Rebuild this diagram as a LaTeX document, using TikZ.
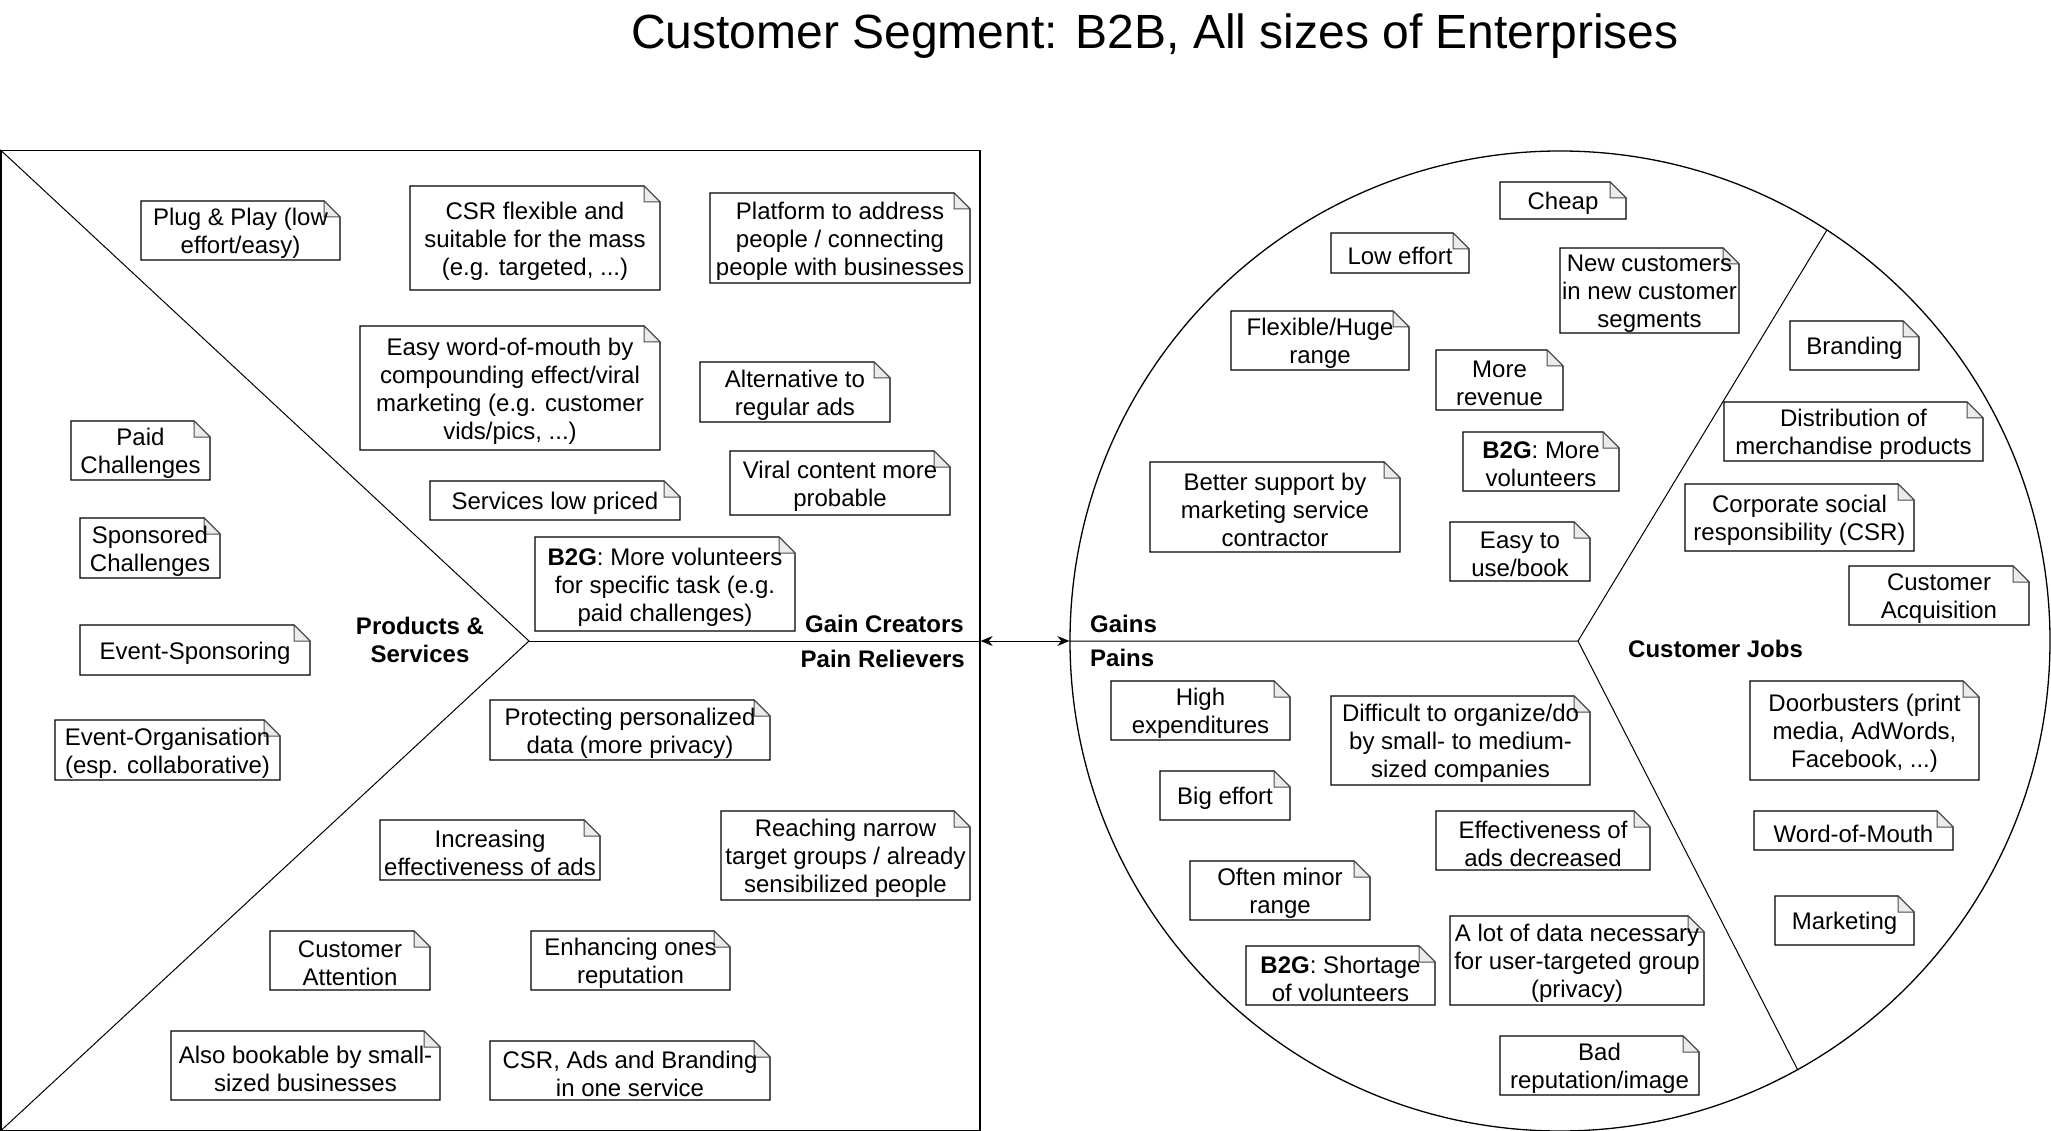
\documentclass[tikz,border=0pt]{standalone}
\usepackage{fontspec}
\setmainfont{Liberation Sans}
\usetikzlibrary{arrows.meta,backgrounds}
\newcommand\notefont{\fontsize{24}{28}\selectfont}
\tikzset{
  notebox/.style={font=\notefont, align=center, inner sep=0pt, text=black},
  noteline/.style={draw=black, line width=1.2pt, fill=white},
  foldline/.style={draw=black!70, line width=1pt, fill=black!8},
  frame/.style={draw=black, line width=1.3pt},
  divider/.style={draw=black, line width=1pt},
  lbl/.style={font=\fontsize{24}{28}\selectfont\bfseries, inner sep=0pt},
}
\newcommand\nt[6]{%
  \node[notebox] (#1) at ({(#2+#4)/2},{(#3+#5)/2+3}) {#6};
  \begin{pgfonlayer}{background}
    \path[noteline] (#2,#3) -- ({#4-16},#3) -- (#4,{#3+16}) -- (#4,#5) -- (#2,#5) -- cycle;
    \path[foldline] ({#4-16},#3) -- ({#4-16},{#3+16}) -- (#4,{#3+16}) -- cycle;
  \end{pgfonlayer}}
\begin{document}
\begin{tikzpicture}[x=1pt,y=-1pt]
\useasboundingbox (0,0) rectangle (2051,1131);
% title
\node[font=\fontsize{48}{56}\selectfont, anchor=base, inner sep=0pt] (title) at (1155,49) {Customer Segment: B2B, All sizes of Enterprises};
% value map square
\node[frame, minimum width=979pt, minimum height=980pt, inner sep=0pt] (vp) at (490.5,640.5) {};
\coordinate (apex) at (529,641);
\draw[divider] (vp.north west) -- (apex) -- (vp.south west);
\draw[divider] (apex) -- (apex -| vp.east);
% customer profile circle
\node[frame, circle, minimum size=980pt, inner sep=0pt] (cp) at (1560,641) {};
\coordinate (jc) at (1578,641);
\draw[divider] (cp.west) -- (jc) -- (cp.57.6);
\draw[divider] (jc) -- (cp.-61);
% fit arrow
\draw[line width=1pt, {Stealth[length=12pt,width=10pt]}-{Stealth[length=12pt,width=10pt]}] (vp.east |- cp.west) -- (cp.west);
% section labels
\node[lbl, align=center] (ps) at (420,640) {Products \&\\Services};
\node[lbl, anchor=base east] (gc) at (964,632) {Gain Creators};
\node[lbl, anchor=base east] (pr) at (965,667) {Pain Relievers};
\node[lbl, anchor=base west] (gn) at (1090,632) {Gains};
\node[lbl, anchor=base west] (pn) at (1090,666) {Pains};
\node[lbl, anchor=base west] (cjl) at (1628,657) {Customer Jobs};
% notes: value map
\nt{n1}{141}{201}{340}{260}{Plug \& Play (low\\effort/easy)}
\nt{n2}{410}{186}{660}{290}{CSR flexible and\\suitable for the mass\\(e.g. targeted, ...)}
\nt{n3}{710}{193}{970}{283}{Platform to address\\people / connecting\\people with businesses}
\nt{n4}{360}{326}{660}{450}{Easy word-of-mouth by\\compounding effect/viral\\marketing (e.g. customer\\vids/pics, ...)}
\nt{n5}{700}{362}{890}{422}{Alternative to\\regular ads}
\nt{n6}{71}{421}{210}{480}{Paid\\Challenges}
\nt{n7}{730}{451}{950}{515}{Viral content more\\probable}
\nt{n8}{430}{481}{680}{520}{Services low priced}
\nt{n9}{80}{518}{220}{578}{Sponsored\\Challenges}
\nt{n10}{535}{537}{795}{631}{\textbf{B2G}: More volunteers\\for specific task (e.g.\\paid challenges)}
\nt{n11}{80}{625}{310}{675}{Event-Sponsoring}
\nt{n12}{55}{720}{280}{780}{Event-Organisation\\(esp. collaborative)}
\nt{n13}{490}{700}{770}{760}{Protecting personalized\\data (more privacy)}
\nt{n14}{380}{820}{600}{880}{Increasing\\effectiveness of ads}
\nt{n15}{721}{811}{970}{900}{Reaching narrow\\target groups / already\\sensibilized people}
\nt{n16}{270}{931}{430}{990}{Customer\\Attention}
\nt{n17}{531}{931}{730}{990}{Enhancing ones\\reputation}
\nt{n18}{171}{1031}{440}{1100}{Also bookable by small-\\sized businesses}
\nt{n19}{490}{1041}{770}{1100}{CSR, Ads and Branding\\in one service}
% notes: gains
\nt{r1}{1500}{182}{1626}{219}{Cheap}
\nt{r2}{1331}{233}{1469}{273}{Low effort}
\nt{r3}{1560}{248}{1739}{333}{New customers\\in new customer\\segments}
\nt{r4}{1231}{311}{1409}{370}{Flexible/Huge\\range}
\nt{r5}{1436}{350}{1563}{410}{More\\revenue}
\nt{r6}{1463}{432}{1619}{491}{\textbf{B2G}: More\\volunteers}
\nt{r7}{1150}{462}{1400}{552}{Better support by\\marketing service\\contractor}
\nt{r8}{1450}{522}{1590}{581}{Easy to\\use/book}
% notes: customer jobs
\nt{j1}{1790}{321}{1919}{370}{Branding}
\nt{j2}{1724}{402}{1983}{461}{Distribution of\\merchandise products}
\nt{j3}{1685}{484}{1914}{551}{Corporate social\\responsibility (CSR)}
\nt{j4}{1849}{566}{2029}{625}{Customer\\Acquisition}
\nt{j5}{1750}{681}{1979}{780}{Doorbusters (print\\media, AdWords,\\Facebook, ...)}
\nt{j6}{1754}{811}{1953}{850}{Word-of-Mouth}
\nt{j7}{1775}{896}{1914}{945}{Marketing}
% notes: pains
\nt{p1}{1111}{681}{1290}{740}{High\\expenditures}
\nt{p2}{1331}{696}{1590}{785}{Difficult to organize/do\\by small- to medium-\\sized companies}
\nt{p3}{1160}{771}{1290}{820}{Big effort}
\nt{p4}{1436}{811}{1650}{870}{Effectiveness of\\ads decreased}
\nt{p5}{1190}{861}{1370}{920}{Often minor\\range}
\nt{p6}{1246}{946}{1435}{1005}{\textbf{B2G}: Shortage\\of volunteers}
\nt{p7}{1450}{916}{1704}{1005}{A lot of data necessary\\for user-targeted group\\(privacy)}
\nt{p8}{1500}{1036}{1699}{1095}{Bad\\reputation/image}
\end{tikzpicture}
\end{document}
